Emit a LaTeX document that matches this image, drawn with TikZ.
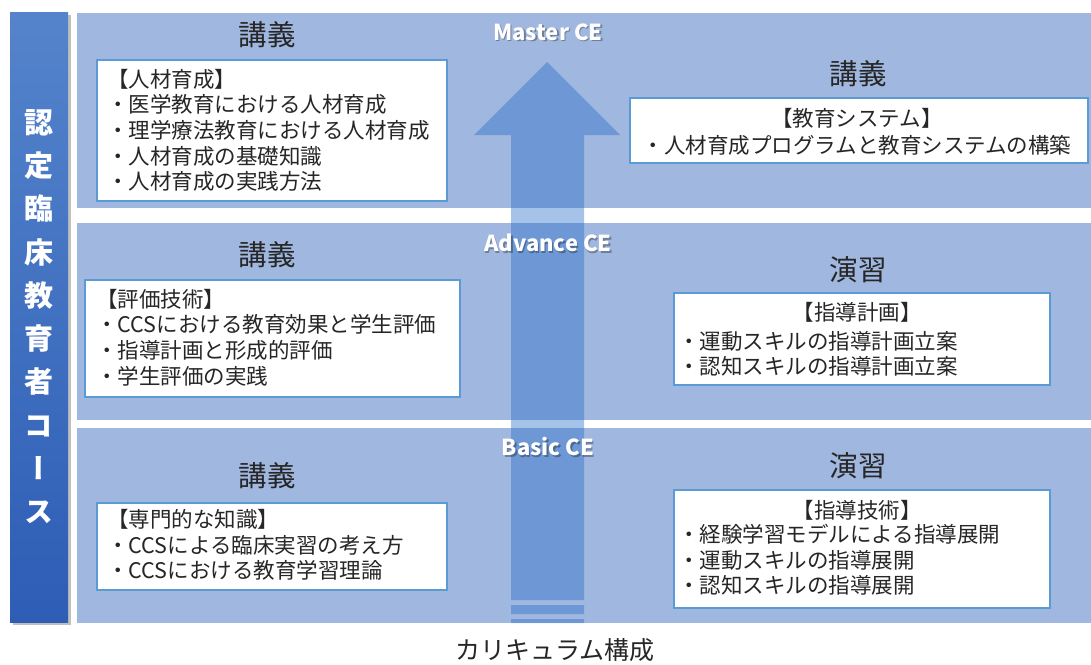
\documentclass[tikz,border=0pt]{standalone}
\usepackage{fontspec}
\setmainfont{Noto Sans CJK JP}
\newfontfamily\jpv[RawFeature=+vert]{Noto Sans CJK JP}
\definecolor{band}{HTML}{A0B7DF}
\definecolor{boxline}{HTML}{5B9BD5}
\definecolor{arrowc}{RGB}{40,110,200}
\definecolor{bartop}{HTML}{5584CC}
\definecolor{barbot}{HTML}{2D5DB5}
\definecolor{txt}{HTML}{262626}
\tikzset{
  tbox/.style={draw=boxline, line width=2.8pt, fill=white, inner sep=0pt},
  title/.style={font=\fontsize{28.5}{30}\selectfont, text=txt, inner sep=0pt},
  body/.style={font=\fontsize{21.5}{25.6}\selectfont, text=txt, inner sep=0pt, align=left},
  celabel/.style={font=\bfseries\fontsize{22}{24}\selectfont, text=white, inner sep=0pt},
  ceshadow/.style={font=\bfseries\fontsize{22}{24}\selectfont, text=black, text opacity=0.3, inner sep=0pt}
}
\begin{document}
\begin{tikzpicture}[x=1pt,y=-1pt]
\useasboundingbox (0,0) rectangle (1091,664);
% left vertical bar
\fill[black, opacity=0.25] (12.5,14.5) rectangle (70.5,624.5);
\shade[top color=bartop, bottom color=barbot] (10,12) rectangle (68,622);
\node[font=\jpv\bfseries\fontsize{29}{43.3}\selectfont, text=white, align=center, inner sep=0pt, anchor=north] (vt) at (39,109)
  {認\\定\\臨\\床\\教\\育\\者\\コ\\ー\\ス};
% bands
\fill[band] (77,13) rectangle (1091,208);
\fill[band] (77,223) rectangle (1091,420);
\fill[band] (77,428) rectangle (1091,623);
% arrow
\fill[arrowc, fill opacity=0.42]
  (511,600) -- (511,135) -- (474,135) -- (547,62) -- (620,135) -- (584,135) -- (584,600) -- cycle
  (511,605) rectangle (584,614)
  (511,619) rectangle (584,623);
% CE labels
\node[ceshadow] (ms) at (549.5,33.5) {Master CE};
\node[celabel] (m) at (548,32) {Master CE};
\node[ceshadow] (as) at (549.5,244.5) {Advance CE};
\node[celabel] (a) at (548,243) {Advance CE};
\node[ceshadow] (bs) at (549.5,448.5) {Basic CE};
\node[celabel] (b) at (548,447) {Basic CE};
% titles
\node[title] (t1) at (267,35) {講義};
\node[title] (t2) at (858,74) {講義};
\node[title] (t3) at (267,255) {講義};
\node[title] (t4) at (858,270) {演習};
\node[title] (t5) at (267,476) {講義};
\node[title] (t6) at (858,466) {演習};
% boxes
\node[tbox, minimum width=350, minimum height=141] (b1) at (272,130.5) {};
\node[tbox, minimum width=458, minimum height=65] (b2) at (859,130.5) {};
\node[tbox, minimum width=375, minimum height=117] (b3) at (272.5,338.5) {};
\node[tbox, minimum width=376, minimum height=92] (b4) at (862,339) {};
\node[tbox, minimum width=350, minimum height=87] (b5) at (272,546.5) {};
\node[tbox, minimum width=376, minimum height=118] (b6) at (862,549) {};
% box texts
\node[body, anchor=north west] (x1) at (107,69)
  {【人材育成】\\・医学教育における人材育成\\・理学療法教育における人材育成\\・人材育成の基礎知識\\・人材育成の実践方法};
\node[body, anchor=center] (x2a) at (857,118) {【教育システム】};
\node[body, anchor=center] (x2b) at (857,145) {・人材育成プログラムと教育システムの構築};
\node[body, anchor=north west] (x3) at (96,289)
  {【評価技術】\\・CCSにおける教育効果と学生評価\\・指導計画と形成的評価\\・学生評価の実践};
\node[body, anchor=center] (x4a) at (857,312) {【指導計画】};
\node[body, anchor=north west] (x4b) at (678,331)
  {・運動スキルの指導計画立案\\・認知スキルの指導計画立案};
\node[body, anchor=north west] (x5) at (107,509)
  {【専門的な知識】\\・CCSによる臨床実習の考え方\\・CCSにおける教育学習理論};
\node[body, anchor=center] (x6a) at (857,510) {【指導技術】};
\node[body, anchor=north west] (x6b) at (678,524)
  {・経験学習モデルによる指導展開\\・運動スキルの指導展開\\・認知スキルの指導展開};
% caption
\node[font=\fontsize{25}{28}\selectfont, text=txt, inner sep=0pt] (cap) at (555,650) {カリキュラム構成};
\end{tikzpicture}
\end{document}
